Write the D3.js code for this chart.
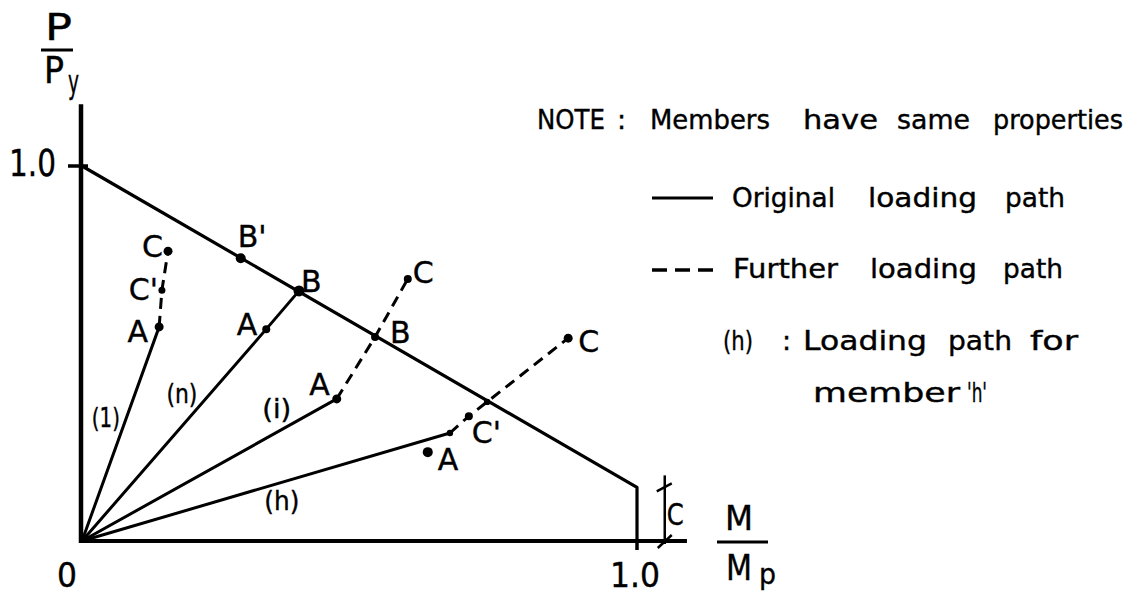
<!DOCTYPE html>
<html>
<head>
<meta charset="utf-8">
<script src="https://cdn.jsdelivr.net/npm/d3@7"></script>
<style>
  html, body { margin: 0; padding: 0; background: #fff; }
  svg { display: block; }
  text { font-family: "DejaVu Sans", "Liberation Sans", sans-serif; fill: #000; stroke: #000; stroke-width: 0.4px; }
</style>
</head>
<body>
<svg id="chart" width="1144" height="596"></svg>
<script>
// ---- Interaction surface (P/Py against M/Mp) ----
const surfaceM = [0, 1.0, 1.0];
const surfaceP = [1.0, 0.143, 0];
const plateauC = 0.143;          // height of the vertical cut-off, marked "C"
const plateauMarkM = 1.05;       // where the C dimension is drawn

// ---- Loading paths, one per member ----
const memberTags = ["(1)", "(n)", "(i)", "(h)"];
const originalM = [[0, 0.139], [0, 0.332, 0.391], [0, 0.459], [0, 0.663]];
const originalP = [[0, 0.571], [0, 0.565, 0.667], [0, 0.379], [0, 0.288]];
const furtherM  = [[0.139, 0.144, 0.155], [], [0.459, 0.528, 0.587], [0.663, 0.697, 0.730, 0.876]];
const furtherP  = [[0.571, 0.669, 0.773], [], [0.379, 0.544, 0.699], [0.288, 0.333, 0.371, 0.541]];

// ---- Labelled load states ----
const stateNames = ["A", "C'", "C", "A", "B", "B'", "A", "B", "C", "A", "C'", "C"];
const stateM = [0.139, 0.144, 0.155, 0.332, 0.391, 0.286, 0.459, 0.528, 0.587, 0.623, 0.697, 0.876];
const stateP = [0.571, 0.669, 0.773, 0.565, 0.667, 0.754, 0.379, 0.544, 0.699, 0.237, 0.333, 0.541];
// unlabelled joints (end of original path and surface crossing of member h)
const jointM = [0.663, 0.730];
const jointP = [0.288, 0.371];

// ---- Tick labels and texts ----
const xTickValues = [0, 1.0];
const xTickLabels = ["0", "1.0"];
const yTickValues = [1.0];
const yTickLabels = ["1.0"];
const noteLines = [
  "NOTE : Members have same properties",
  "Original loading path",
  "Further loading path",
  "(h) : Loading path for",
  "member 'h'"
];

// ---- Scales ----
const x = d3.scaleLinear().domain([0, 1]).range([82, 637]);
const y = d3.scaleLinear().domain([0, 1]).range([541, 166]);

const svg = d3.select("#chart");
const line = d3.line().x(d => x(d[0])).y(d => y(d[1]));

function fit(sel, w) {
  if (w) sel.attr("textLength", w).attr("lengthAdjust", "spacingAndGlyphs");
  return sel;
}

// ---- Axes ----
svg.append("line")
  .attr("x1", x(0) - 1).attr("x2", x(0) - 1)
  .attr("y1", y(0) + 2).attr("y2", y(1.165))
  .attr("stroke", "#000").attr("stroke-width", 4.5);
svg.append("line")
  .attr("x1", x(0) - 3).attr("x2", x(1.09))
  .attr("y1", y(0)).attr("y2", y(0))
  .attr("stroke", "#000").attr("stroke-width", 4);

// y tick at 1.0
yTickValues.forEach((v, i) => {
  svg.append("line")
    .attr("x1", x(0) - 14).attr("x2", x(0) + 6)
    .attr("y1", y(v)).attr("y2", y(v))
    .attr("stroke", "#000").attr("stroke-width", 3.5);
  fit(svg.append("text")
    .attr("x", x(0) - 26).attr("y", y(v) + 10)
    .attr("text-anchor", "end").attr("font-size", 37)
    .text(yTickLabels[i]), 47);
});

// x tick labels
const xLabelW = [20, 50];
const xLabelShift = [-15, -2];
xTickValues.forEach((v, i) => {
  fit(svg.append("text")
    .attr("x", x(v) + xLabelShift[i]).attr("y", 587)
    .attr("text-anchor", "middle").attr("font-size", 34)
    .text(xTickLabels[i]), xLabelW[i]);
});
// tick at M/Mp = 1.0 below the axis
svg.append("line")
  .attr("x1", x(1)).attr("x2", x(1))
  .attr("y1", y(0)).attr("y2", y(0) + 9)
  .attr("stroke", "#000").attr("stroke-width", 3.5);

// ---- Axis titles ----
// P / Py
fit(svg.append("text").attr("x", 45).attr("y", 40).attr("font-size", 37).text("P"), 27);
svg.append("line").attr("x1", 41).attr("x2", 73).attr("y1", 50).attr("y2", 50)
  .attr("stroke", "#000").attr("stroke-width", 3);
fit(svg.append("text").attr("x", 44).attr("y", 83).attr("font-size", 37).text("P"), 20);
fit(svg.append("text").attr("x", 68).attr("y", 93).attr("font-size", 32).text("y"), 11);
// M / Mp
fit(svg.append("text").attr("x", 725).attr("y", 530).attr("font-size", 34).text("M"), 28);
svg.append("line").attr("x1", 717).attr("x2", 768).attr("y1", 542).attr("y2", 542)
  .attr("stroke", "#000").attr("stroke-width", 3);
fit(svg.append("text").attr("x", 726).attr("y", 580).attr("font-size", 36).text("M"), 26);
fit(svg.append("text").attr("x", 759).attr("y", 584).attr("font-size", 29).text("p"), 17);

// ---- Interaction surface ----
svg.append("path")
  .datum(surfaceM.map((m, i) => [m, surfaceP[i]]))
  .attr("d", line)
  .attr("fill", "none").attr("stroke", "#000").attr("stroke-width", 3.2)
  .attr("stroke-linejoin", "round");

// C dimension of the vertical cut-off
const cx = x(plateauMarkM);
svg.append("line").attr("x1", cx).attr("x2", cx)
  .attr("y1", y(plateauC) - 12).attr("y2", y(0) + 3)
  .attr("stroke", "#000").attr("stroke-width", 2.5);
svg.append("line").attr("x1", cx - 8).attr("x2", cx + 7)
  .attr("y1", y(plateauC) + 4).attr("y2", y(plateauC) - 4)
  .attr("stroke", "#000").attr("stroke-width", 2.5);
svg.append("line").attr("x1", cx - 7).attr("x2", cx + 7)
  .attr("y1", y(0) + 7).attr("y2", y(0) - 6)
  .attr("stroke", "#000").attr("stroke-width", 2.5);
fit(svg.append("text").attr("x", cx + 2).attr("y", 525).attr("font-size", 31).text("C"), 17);

// ---- Loading paths ----
memberTags.forEach((tag, k) => {
  svg.append("path")
    .datum(originalM[k].map((m, i) => [m, originalP[k][i]]))
    .attr("d", line)
    .attr("fill", "none").attr("stroke", "#000").attr("stroke-width", 3)
    .attr("stroke-linecap", "round");
  if (furtherM[k].length) {
    svg.append("path")
      .datum(furtherM[k].map((m, i) => [m, furtherP[k][i]]))
      .attr("d", line)
      .attr("fill", "none").attr("stroke", "#000").attr("stroke-width", 3)
      .attr("stroke-dasharray", "11,7");
  }
});

// member tags
const tagAt = [[0.043, 0.304], [0.180, 0.368], [0.351, 0.328], [0.360, 0.083]];
const tagW = [28, 31, 29, 35];
memberTags.forEach((tag, k) => {
  fit(svg.append("text")
    .attr("x", x(tagAt[k][0])).attr("y", y(tagAt[k][1]))
    .attr("text-anchor", "middle").attr("font-size", 26)
    .text(tag), tagW[k]);
});

// ---- State markers and labels ----
const stateR = [4.5, 3.5, 4.5, 4, 5.5, 5, 4.5, 4, 4, 5, 4, 4.5];
svg.selectAll("circle.state")
  .data(stateNames)
  .join("circle").attr("class", "state")
  .attr("cx", (d, i) => x(stateM[i]))
  .attr("cy", (d, i) => y(stateP[i]))
  .attr("r", (d, i) => stateR[i])
  .attr("fill", "#000");
svg.selectAll("circle.joint")
  .data(jointM)
  .join("circle").attr("class", "joint")
  .attr("cx", (d, i) => x(d))
  .attr("cy", (d, i) => y(jointP[i]))
  .attr("r", 3.2)
  .attr("fill", "#000");

// label offsets from each state: [dx, dy, anchor]
const labelOffset = [
  [-11, 15, "end"], [-4, 10, "end"], [-5, 6, "end"],
  [-9, 6, "end"], [2, 1, "start"], [-3, -11, "start"],
  [-7, -4, "end"], [15, 6, "start"], [5, 4, "start"],
  [10, 18, "start"], [3, 27, "start"], [10, 14, "start"]
];
svg.selectAll("text.state")
  .data(stateNames)
  .join("text").attr("class", "state")
  .attr("x", (d, i) => x(stateM[i]) + labelOffset[i][0])
  .attr("y", (d, i) => y(stateP[i]) + labelOffset[i][1])
  .attr("text-anchor", (d, i) => labelOffset[i][2])
  .attr("font-size", 30)
  .text(d => d);

// ---- Note and legend ----
const rowBaseline = [129, 207, 278, 350, 402];
const wordSpan = [
  [[537, 605], [617, 622], [650, 770], [803, 878], [897, 970], [993, 1123]],
  [[732, 835], [868, 977], [1005, 1065]],
  [[733, 838], [870, 977], [1003, 1063]],
  [[723, 753], [782, 787], [803, 927], [948, 1012], [1030, 1078]],
  [[813, 960], [967, 987]]
];
noteLines.forEach((txt, r) => {
  txt.split(" ").forEach((w, j) => {
    const s = wordSpan[r][j];
    const t = svg.append("text")
      .attr("x", s[0]).attr("y", rowBaseline[r])
      .attr("font-size", 27).text(w);
    if (w.length > 1) fit(t, s[1] - s[0]);
  });
});
// legend swatches
svg.append("line").attr("x1", 652).attr("x2", 713).attr("y1", 198).attr("y2", 198)
  .attr("stroke", "#000").attr("stroke-width", 3);
svg.append("line").attr("x1", 652).attr("x2", 713).attr("y1", 270).attr("y2", 270)
  .attr("stroke", "#000").attr("stroke-width", 3.5)
  .attr("stroke-dasharray", "15,8");
</script>
</body>
</html>
